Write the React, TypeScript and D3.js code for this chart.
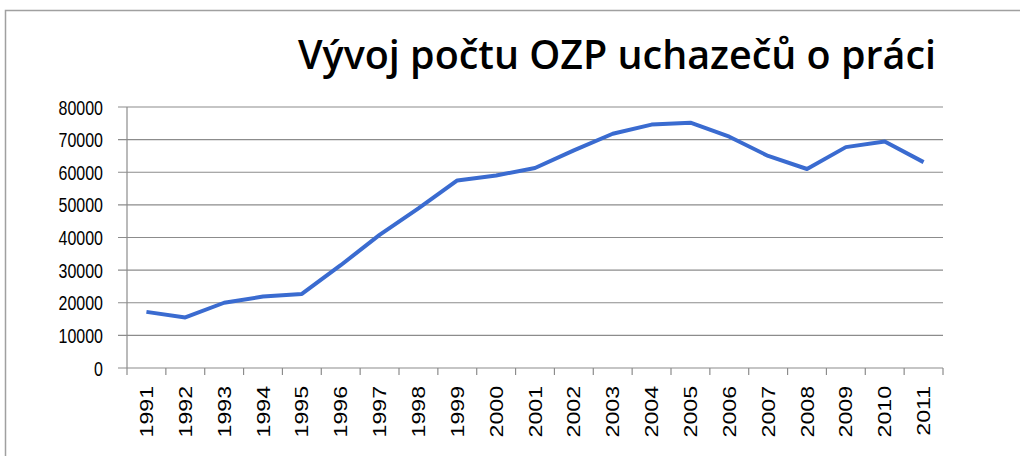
import React from "react";
import * as d3 from "d3";

const years = ["1991","1992","1993","1994","1995","1996","1997","1998","1999","2000","2001","2002","2003","2004","2005","2006","2007","2008","2009","2010","2011"];
const values = [17200,15500,20000,21900,22700,31500,40800,48900,57500,59000,61300,66700,71800,74600,75200,70900,65000,61000,67700,69400,63100];
const yTicks = [0,10000,20000,30000,40000,50000,60000,70000,80000];
const title = "Vývoj počtu OZP uchazečů o práci";

export default function App() {
  const W = 1020, H = 456;
  const left = 127, right = 943, top = 107, bottom = 368;
  const x = d3.scaleBand<string>().domain(years).range([left, right]).padding(0);
  const y = d3.scaleLinear().domain([0, 80000]).range([bottom, top]);
  const line = d3.line<number>()
    .x((_, i) => (x(years[i]) as number) + x.bandwidth() / 2)
    .y((d) => y(d));
  const grid = "#8c8c8c";
  const edges = years.map((yr) => x(yr) as number).concat([right]);
  return (
    <svg width={W} height={H} style={{ position: "absolute", left: 0, top: 0, background: "#fff" }}>
      <rect x={5.5} y={10.5} width={1030} height={460} fill="#fff" stroke="#a0a0a0" strokeWidth={1.5} />
      <text
        transform={`translate(936,69) scale(1,1.22)`}
        textAnchor="end"
        fontFamily="'Open Sans', sans-serif"
        fontWeight={600}
        fontSize={33}
        textLength={638}
        lengthAdjust="spacingAndGlyphs"
        fill="#000"
      >{title}</text>
      {yTicks.map((t) => (
        <g key={t}>
          <line x1={left - 9} x2={right} y1={y(t)} y2={y(t)} stroke={grid} strokeWidth={1.2} />
          <text
            transform={`translate(103,${y(t) + 7.5}) scale(1,1.3)`}
            textAnchor="end"
            fontFamily="'Liberation Sans', Arial, sans-serif"
            fontSize={16}
            fill="#000"
          >{t}</text>
        </g>
      ))}
      <line x1={left} x2={left} y1={top} y2={bottom} stroke={grid} strokeWidth={1.2} />
      {edges.map((e, i) => (
        <line key={i} x1={e} x2={e} y1={bottom} y2={bottom + 7} stroke={grid} strokeWidth={1.2} />
      ))}
      {years.map((yr) => (
        <text
          key={yr}
          transform={`translate(${(x(yr) as number) + x.bandwidth() / 2 + 6.5},386) scale(1,1.25) rotate(-90)`}
          textAnchor="end"
          fontFamily="'Liberation Sans', Arial, sans-serif"
          fontSize={18.5}
          fill="#000"
        >{yr}</text>
      ))}
      <path d={line(values) as string} fill="none" stroke="#3a6bd0" strokeWidth={4} strokeLinejoin="round" />
    </svg>
  );
}
